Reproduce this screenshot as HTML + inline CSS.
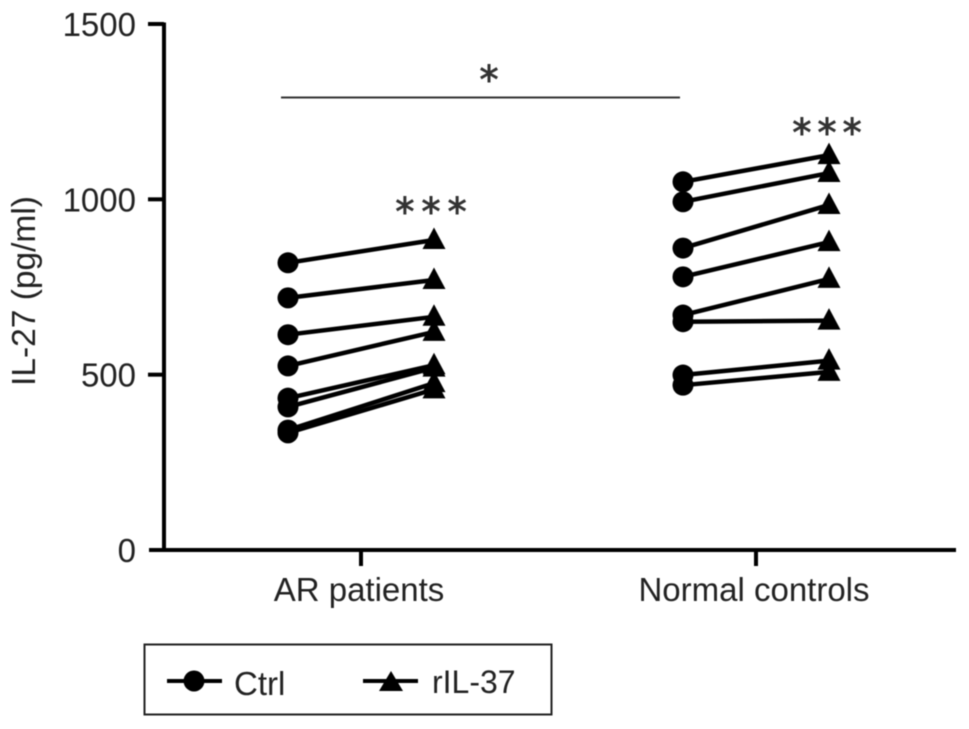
<!DOCTYPE html>
<html>
<head>
<meta charset="utf-8">
<style>
html,body{margin:0;padding:0;background:#fff;width:969px;height:729px;overflow:hidden}
svg{display:block;filter:blur(0.5px)}
text{font-family:"Liberation Sans",sans-serif;fill:#222}
text.star{font-family:"DejaVu Sans",sans-serif;fill:#333;stroke:#333;stroke-width:0.9px}
</style>
</head>
<body>
<svg id="chart" xmlns="http://www.w3.org/2000/svg" width="969" height="729" viewBox="0 0 969 729"></svg>
<script>
const categories = ["AR patients", "Normal controls"];
const yTicks = [0, 500, 1000, 1500];
const yTickLabels = ["0", "500", "1000", "1500"];
const arCtrl = [819, 719, 614, 525, 433, 408, 342, 334];
const arRil37 = [884, 770, 665, 622, 527, 520, 476, 458];
const normalCtrl = [1050, 993, 861, 779, 670, 651, 499, 470];
const normalRil37 = [1126, 1075, 984, 878, 773, 654, 540, 508];
const groupNames = ["ar", "normal"];
const ctrlSeries = [arCtrl, normalCtrl];
const ril37Series = [arRil37, normalRil37];

const svg = document.getElementById('chart');
const NS = 'http://www.w3.org/2000/svg';
function make(tag, attrs, text) {
  const el = document.createElementNS(NS, tag);
  for (const k in attrs) el.setAttribute(k, attrs[k]);
  if (text !== undefined) el.textContent = text;
  svg.appendChild(el);
  return el;
}
function y(v) { return 550 - v * (526 / 1500); }
function xGroup(i) { return 361 + 395 * i; }
function xCtrl(i) { return xGroup(i) - 73; }
function xRil(i) { return xGroup(i) + 73; }
function triPts(cx, cy) {
  return (cx) + ',' + (cy - 12.5) + ' ' + (cx + 11.5) + ',' + (cy + 9) + ' ' + (cx - 11.5) + ',' + (cy + 9);
}

/* axes */
const yAxis = make('line', {x1:164, x2:164, y1:22.5, y2:552, stroke:'#000', 'stroke-width':4});


const xAxis = make('line', {x1:149, x2:956, y1:550, y2:550, stroke:'#000', 'stroke-width':4});



yTicks.forEach(function (t, i) {
  if (t !== 0) {
    const tick = make('line', {x1:148, x2:164, y1:y(t), y2:y(t), stroke:'#000', 'stroke-width':4});
    
    
  }
  const label = make('text', {x:136, y:y(t) + 12, 'text-anchor':'end', 'font-size':33}, yTickLabels[i]);
  
  
});

categories.forEach(function (c, i) {
  const tick = make('line', {x1:xGroup(i), x2:xGroup(i), y1:550, y2:566, stroke:'#000', 'stroke-width':4});
  
  
  const label = make('text', {x:xGroup(i) - 2, y:601, 'text-anchor':'middle', 'font-size':33}, c);
  
  
});

const yTitle = make('text', {transform:'translate(35,291) rotate(-90)', 'text-anchor':'middle', 'font-size':33.5}, 'IL-27 (pg/ml)');



/* paired series */
categories.forEach(function (c, g) {
  ctrlSeries[g].forEach(function (v, i) {
    const w = ril37Series[g][i];
    const line = make('line', {x1:xCtrl(g), y1:y(v), x2:xRil(g), y2:y(w), stroke:'#000', 'stroke-width':4.5});
    
    
    const dot = make('circle', {cx:xCtrl(g), cy:y(v), r:10.5, fill:'#000'});
    
    
    const tri = make('polygon', {points:triPts(xRil(g), y(w)), fill:'#000'});
    
    
  });
});

/* significance */
const bracket = make('line', {x1:281, x2:680, y1:97.5, y2:97.5, stroke:'#333', 'stroke-width':2});


const star = make('text', {class:'star', x:489, y:93, 'text-anchor':'middle', 'font-size':38}, '*');


const starsAr = make('text', {class:'star', x:431, y:225, 'text-anchor':'middle', 'font-size':38, 'word-spacing':'-5'}, '* * *');


const starsNormal = make('text', {class:'star', x:827, y:146, 'text-anchor':'middle', 'font-size':38, 'word-spacing':'-6'}, '* * *');



/* legend */
const legendBox = make('rect', {x:144.5, y:644.5, width:407, height:70, fill:'none', stroke:'#222', 'stroke-width':2});


const lineA = make('line', {x1:167, x2:222, y1:681, y2:681, stroke:'#000', 'stroke-width':4});


const dotA = make('circle', {cx:194, cy:681, r:10.5, fill:'#000'});


const textA = make('text', {x:234, y:695, 'font-size':33}, 'Ctrl');


const lineB = make('line', {x1:363, x2:418, y1:681, y2:681, stroke:'#000', 'stroke-width':4});


const triB = make('polygon', {points:'391,671 403,691 379,691', fill:'#000'});


const textB = make('text', {x:432, y:693, 'font-size':32}, 'rIL-37');


</script>
</body>
</html>
